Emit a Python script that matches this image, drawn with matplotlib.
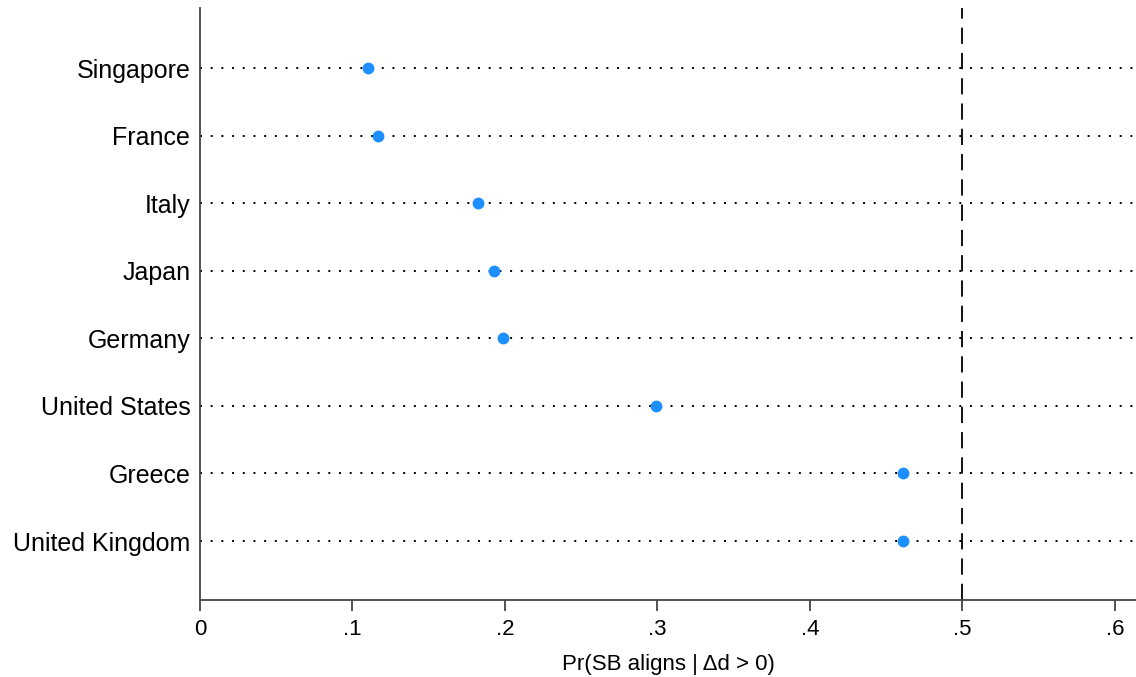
import matplotlib
matplotlib.use("Agg")
import matplotlib.pyplot as plt

countries = ["Singapore", "France", "Italy", "Japan", "Germany",
             "United States", "Greece", "United Kingdom"]
values = [0.110, 0.117, 0.182, 0.193, 0.199, 0.299, 0.461, 0.461]
xticks = [0, 0.1, 0.2, 0.3, 0.4, 0.5, 0.6]
xticklabels = ["0", ".1", ".2", ".3", ".4", ".5", ".6"]
ref_line = 0.5

plt.rcParams['font.family'] = ['Liberation Sans', 'DejaVu Sans']

fig = plt.figure(figsize=(11.36, 6.77), dpi=100)
ax = fig.add_axes([200/1136, 1 - 600/677, 936/1136, 592/677])

n = len(countries)
ypos = list(range(n, 0, -1))

for y in ypos:
    ax.axhline(y, color='black', linestyle=(0, (1, 4.5)), linewidth=1.4, zorder=1)
ax.axvline(ref_line, color='black', linestyle=(0, (9, 5)), linewidth=1.3, zorder=1)

ax.plot(values, ypos, 'o', color='#1e8fff', markersize=7.5, zorder=3, linestyle='none')

ax.set_xlim(0, 0.6138)
ax.set_ylim(0.127, 8.888)
ax.set_yticks(ypos)
ax.set_yticklabels(countries, fontsize=18)
ax.set_xticks(xticks)
ax.set_xticklabels(xticklabels, fontsize=16)
ax.set_xlabel("Pr(SB aligns | Δd > 0)", fontsize=16, labelpad=10)

for s in ['top', 'right']:
    ax.spines[s].set_visible(False)
for s in ['left', 'bottom']:
    ax.spines[s].set_color('#444444')
    ax.spines[s].set_linewidth(1.3)
ax.tick_params(axis='y', length=0, pad=7)
ax.tick_params(axis='x', length=8, width=1.3, color='#444444', pad=6)

fig.savefig("out.png", dpi=100)
